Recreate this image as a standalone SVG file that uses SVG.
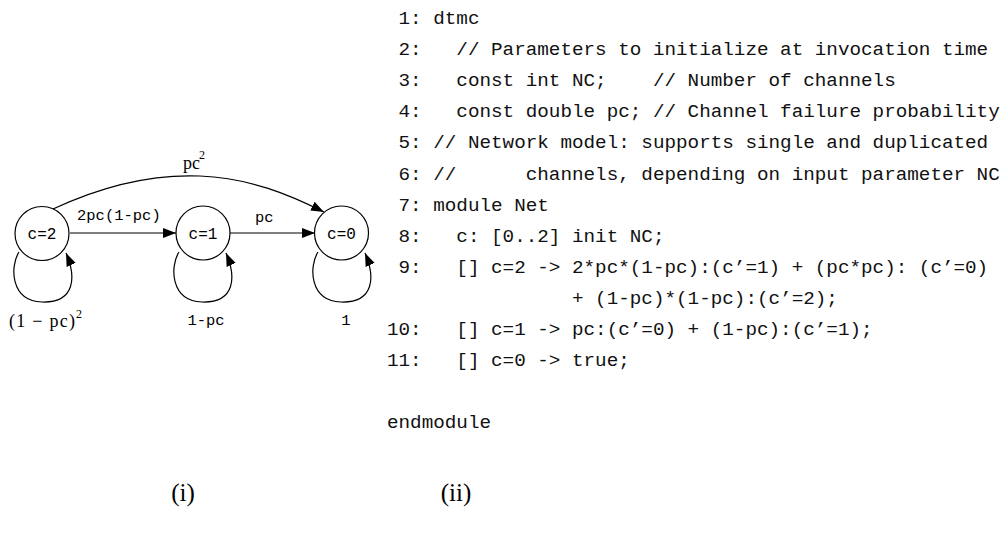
<svg xmlns="http://www.w3.org/2000/svg" width="1004" height="537" viewBox="0 0 1004 537">
<style>
.node circle{fill:none;stroke:#000;stroke-width:1.2}
.nl{font-family:"Liberation Mono",monospace;font-size:16px;text-anchor:middle;fill:#000}
.el{font-family:"Liberation Mono",monospace;font-size:15.5px;fill:#000}
.math{font-family:"Liberation Serif",serif;font-size:18px;fill:#000}
.sup{font-family:"Liberation Serif",serif;font-size:12px;fill:#000}
.edge{fill:none;stroke:#000;stroke-width:1.2}
.code{font-family:"Liberation Mono",monospace;font-size:19.28px;fill:#111;white-space:pre}
.cap{font-family:"Liberation Serif",serif;font-size:25px;text-anchor:middle;fill:#000}
</style>
<defs>
<marker id="ah" viewBox="0 0 10 10" refX="10" refY="5" markerWidth="13" markerHeight="13" markerUnits="userSpaceOnUse" orient="auto">
<path d="M0,1.2 L10,5 L0,8.8 Z" fill="#000"/>
</marker>
</defs>
<rect width="1004" height="537" fill="#fff"/>
<g id="connectors">
<path class="edge" d="M70,233 L176,233" marker-end="url(#ah)"/>
<path class="edge" d="M230,233 L315,233" marker-end="url(#ah)"/>
<path class="edge" d="M53,209 C100,187 150,174 200,176 C250,178 290,195 324,212" marker-end="url(#ah)"/>
<path class="edge" d="M19,252 C10,266 10,301 42,302 C76,303 76,276 66,253" marker-end="url(#ah)"/>
<path class="edge" d="M179,252 C170,266 170,301 202,302 C236,303 236,276 226,253" marker-end="url(#ah)"/>
<path class="edge" d="M318,252 C309,266 309,301 341,302 C375,303 375,276 365,253" marker-end="url(#ah)"/>
<text class="el" x="77" y="220">2pc(1-pc)</text>
<text class="el" x="255" y="222">pc</text>
<text class="math" x="183" y="169">pc</text>
<text class="sup" x="199" y="159">2</text>
<text class="math" x="9" y="327" textLength="66" lengthAdjust="spacing">(1 − pc)</text>
<text class="sup" x="76" y="318">2</text>
<text class="el" x="206" y="325" text-anchor="middle">1-pc</text>
<text class="el" x="346" y="325" text-anchor="middle">1</text>
</g>
<g id="n2" class="node"><circle cx="42" cy="233.5" r="27"/><text class="nl" x="42" y="239">c=2</text></g>
<g id="n1" class="node"><circle cx="203" cy="233" r="27"/><text class="nl" x="203" y="239">c=1</text></g>
<g id="n0" class="node"><circle cx="341.5" cy="233" r="27"/><text class="nl" x="341.5" y="239">c=0</text></g>
<g id="code">
<text class="code" xml:space="preserve" x="387" y="24"> 1: dtmc</text>
<text class="code" xml:space="preserve" x="387" y="55"> 2:   // Parameters to initialize at invocation time</text>
<text class="code" xml:space="preserve" x="387" y="86"> 3:   const int NC;    // Number of channels</text>
<text class="code" xml:space="preserve" x="387" y="117"> 4:   const double pc; // Channel failure probability</text>
<text class="code" xml:space="preserve" x="387" y="148"> 5: // Network model: supports single and duplicated</text>
<text class="code" xml:space="preserve" x="387" y="180"> 6: //      channels, depending on input parameter NC</text>
<text class="code" xml:space="preserve" x="387" y="211"> 7: module Net</text>
<text class="code" xml:space="preserve" x="387" y="242"> 8:   c: [0..2] init NC;</text>
<text class="code" xml:space="preserve" x="387" y="273"> 9:   [] c=2 -&gt; 2*pc*(1-pc):(c’=1) + (pc*pc): (c’=0)</text>
<text class="code" xml:space="preserve" x="387" y="304">                + (1-pc)*(1-pc):(c’=2);</text>
<text class="code" xml:space="preserve" x="387" y="335">10:   [] c=1 -&gt; pc:(c’=0) + (1-pc):(c’=1);</text>
<text class="code" xml:space="preserve" x="387" y="366">11:   [] c=0 -&gt; true;</text>
<text class="code" xml:space="preserve" x="387" y="428">endmodule</text>
</g>
<text class="cap" x="183" y="501">(i)</text>
<text class="cap" x="456" y="501">(ii)</text>
</svg>
